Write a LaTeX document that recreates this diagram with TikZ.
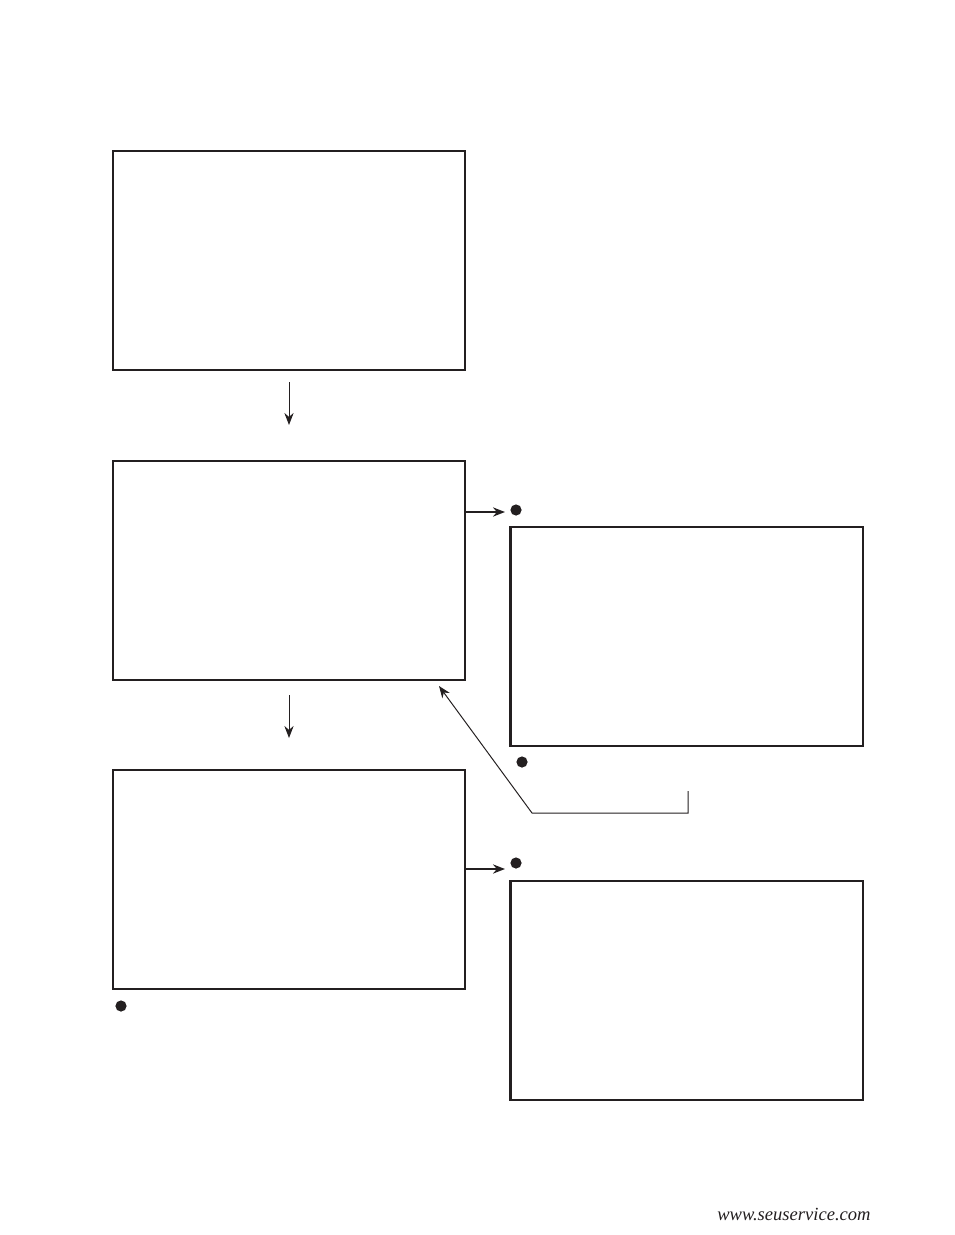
\documentclass[tikz,border=0pt]{standalone}
\usepackage{fontspec}
\setmainfont{Liberation Serif}
\usetikzlibrary{arrows.meta, positioning, calc}
\definecolor{cink}{HTML}{231F20}
\tikzset{
  every picture/.style={line width=0.6pt},
  frame/.style={draw=cink, line width=1.5pt, minimum width=8.8cm, minimum height=5.475cm, inner sep=0pt},
  arrow/.style={-{Stealth[length=3mm, width=2.3mm]}, draw=cink, line width=0.7pt},
  feed/.style={arrow, line width=1.2pt},
  dot/.style={circle, fill=cink, inner sep=0pt, minimum size=0.28cm},
  web/.style={font=\itshape\fontsize{13.2}{15}\selectfont, text=cink, anchor=south east, inner sep=0pt},
}

\begin{document}
\begin{tikzpicture}[x=0.025cm, y=-0.025cm]
  \useasboundingbox (0,0) rectangle (954,1235);

  % left column
  \node[frame] (b1) at (289,260.5) {};
  \node[frame] (b2) at (289,570.5) {};
  \node[frame] (b3) at (289,879.5) {};
  \coordinate (d1s) at (289,382);
  \coordinate (d1e) at (289,425);
  \coordinate (d2s) at (289,695);
  \coordinate (d2e) at (289,738);
  \draw[arrow] (d1s) -- (d1e);
  \draw[arrow] (d2s) -- (d2e);

  % right column
  \node[frame] (b4) at (686.5,636.5) {};
  \node[frame] (b5) at (686.5,990.5) {};
  \node[dot] (p4) at (516,510) {};
  \node[dot] (p5) at (516,863) {};
  \node[dot] (p4b) at (522,762) {};
  \node[dot] (p3b) at (121,1006) {};
  \coordinate (t4) at (505,512);
  \coordinate (t5) at (505,869);
  \draw[feed] (b2.east |- t4) -- (t4);
  \draw[feed] (b3.east |- t5) -- (t5);

  % return line
  \coordinate (r1) at (688,791);
  \coordinate (r2) at (688,813);
  \coordinate (r3) at (532,813);
  \coordinate (r4) at (439,686);
  \draw[arrow] (r1) -- (r2) -- (r3) -- (r4);

  \node[web] (site) at (871,1221) {www.seuservice.com};
\end{tikzpicture}
\end{document}
